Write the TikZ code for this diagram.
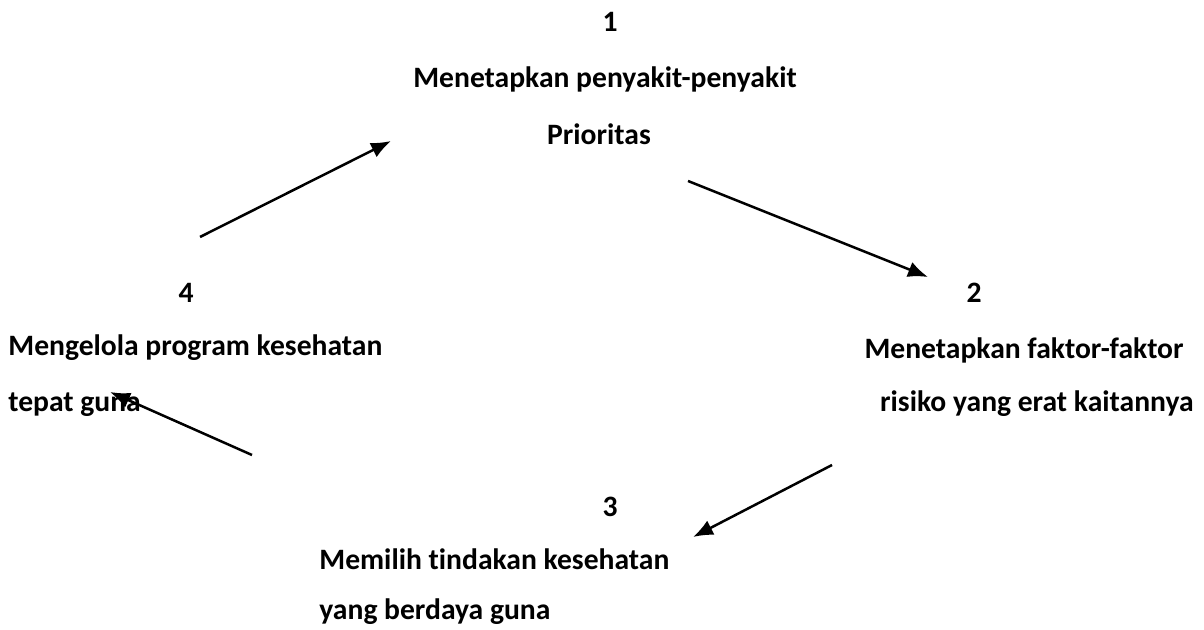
\documentclass[tikz,border=0pt]{standalone}
\usepackage{fontspec}
\setmainfont{Carlito}[Ligatures=NoCommon]
\usetikzlibrary{arrows.meta}
\tikzstyle{num} = [anchor=base, inner sep=0pt, font=\fontsize{14.8}{18}\selectfont\bfseries]
\tikzstyle{lab} = [inner sep=0pt, font=\fontsize{14.8}{18}\selectfont\bfseries]
\tikzstyle{arr} = [-{Latex[length=10pt,width=8pt]}, line width=1.25pt]

\begin{document}
\begin{tikzpicture}[x=0.5pt, y=-0.5pt]
\useasboundingbox (0,0) rectangle (1204,630);
% step 1
\node(N1)[num] at (610,32) {1};
\node(T1a)[lab, anchor=base] at (605,88) {Menetapkan penyakit-penyakit};
\node(T1b)[lab, anchor=base] at (599,145) {Prioritas};
% step 2
\node(N2)[num] at (974,303) {2};
\node(T2a)[lab, anchor=base east] at (1184,358) {Menetapkan faktor-faktor};
\node(T2b)[lab, anchor=base east] at (1194,412) {risiko yang erat kaitannya};
% step 3
\node(N3)[num] at (610,516) {3};
\node(T3a)[lab, anchor=base west] at (319,569) {Memilih tindakan kesehatan};
\node(T3b)[lab, anchor=base west] at (319,619) {yang berdaya guna};
% step 4
\node(N4)[num] at (186,303) {4};
\node(T4a)[lab, anchor=base west] at (8,356) {Mengelola program kesehatan};
\node(T4b)[lab, anchor=base west] at (8,412) {tepat guna};
% arrow ends
\coordinate(A1s) at (688,181);
\coordinate(A1e) at (928,277);
\coordinate(A2s) at (832,465);
\coordinate(A2e) at (693,537);
\coordinate(A3s) at (252,455);
\coordinate(A3e) at (110,392);
\coordinate(A4s) at (200,237);
\coordinate(A4e) at (391,141);
\draw[arr](A1s)--(A1e);
\draw[arr](A2s)--(A2e);
\draw[arr](A3s)--(A3e);
\draw[arr](A4s)--(A4e);
\end{tikzpicture}
\end{document}
